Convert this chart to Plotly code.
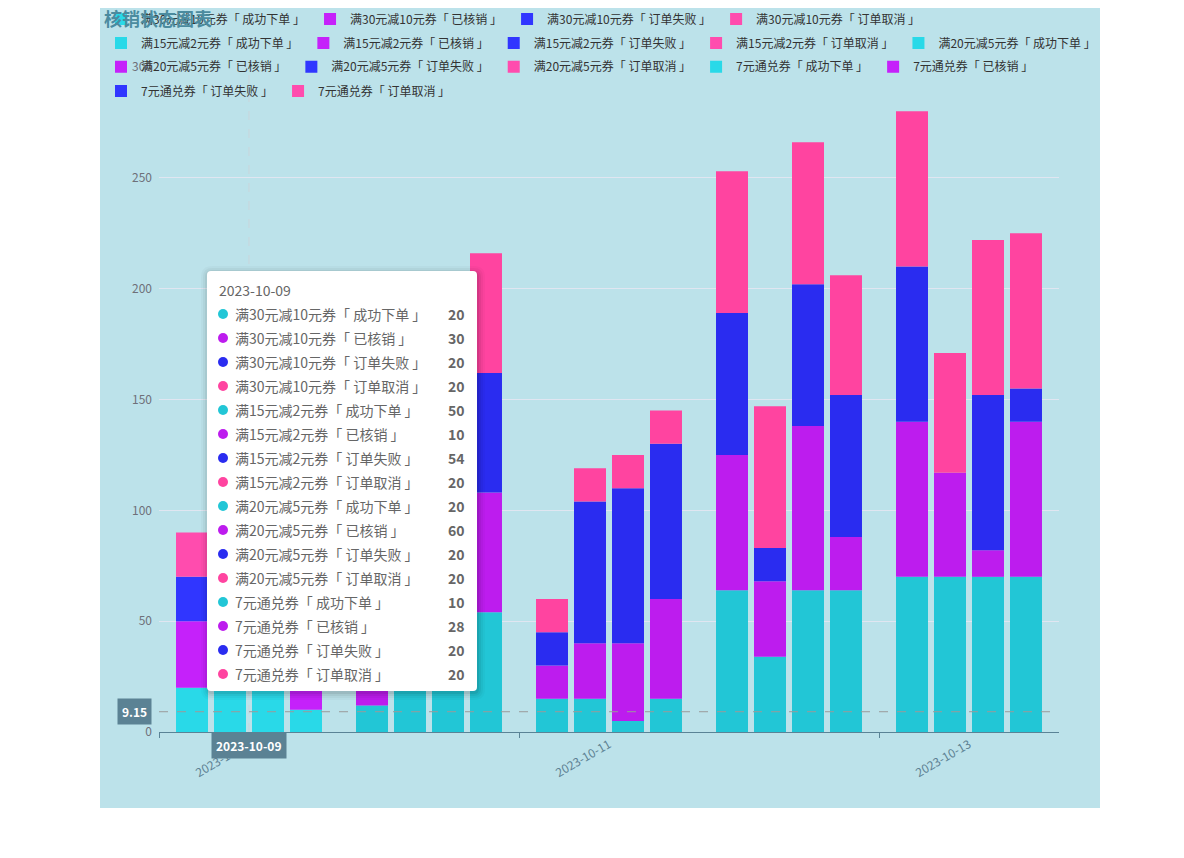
import plotly.graph_objects as go

# ---------------- data ----------------
dates = ['2023-10-09', '2023-10-10', '2023-10-11', '2023-10-12', '2023-10-13']
coupons = ['满30元减10元券', '满15元减2元券', '满20元减5元券', '7元通兑券']
statuses = ['成功下单', '已核销', '订单失败', '订单取消']

c30_success = [20, 12, 15, 64, 70]
c30_used = [30, 25, 15, 61, 70]
c30_failed = [20, 30, 15, 64, 70]
c30_cancel = [20, 15, 15, 64, 70]

c15_success = [50, 40, 15, 34, 70]
c15_used = [10, 30, 25, 34, 47]
c15_failed = [54, 20, 64, 15, 0]
c15_cancel = [20, 20, 15, 64, 54]

c20_success = [20, 54, 5, 64, 70]
c20_used = [60, 30, 35, 74, 12]
c20_failed = [20, 40, 70, 64, 70]
c20_cancel = [20, 20, 15, 64, 70]

c7_success = [10, 54, 15, 64, 70]
c7_used = [28, 54, 45, 24, 70]
c7_failed = [20, 54, 70, 64, 15]
c7_cancel = [20, 54, 15, 54, 70]

values = {
    '满30元减10元券': [c30_success, c30_used, c30_failed, c30_cancel],
    '满15元减2元券': [c15_success, c15_used, c15_failed, c15_cancel],
    '满20元减5元券': [c20_success, c20_used, c20_failed, c20_cancel],
    '7元通兑券': [c7_success, c7_used, c7_failed, c7_cancel],
}

y_ticks = [0, 50, 100, 150, 200, 250, 300]
hover_index = 0          # category under the pointer
pointer_y = 9.15         # value shown by the y axis pointer
title_text = '核销状态图表'

# ---------------- styles ----------------
FONT = 'Noto Sans CJK SC'
status_colors = ['#22c6d6', '#bd1cee', '#2a2cf0', '#ff44a0']
status_colors_hi = ['#29d9e8', '#c521fa', '#3036ff', '#ff4cae']
AXIS_COLOR = '#5a8396'
BG = '#bce2ea'

W, H = 1160, 840
L, R, T, B = 151, 109, 59, 116
PW, PH = W - L - R, H - T - B


def px(fx):
    return (fx - L) / PW


def py(fy):
    return (H - B - fy) / PH


def label(coupon, status):
    return f'{coupon}「 {status} 」'


legend_rows = [4, 5, 5, 2]
legend_ids = ['legend', 'legend2', 'legend3', 'legend4']
legend_fy = [11, 35, 59, 83]

fig = go.Figure()

k = 0
row_of_item = []
for r, n in enumerate(legend_rows):
    row_of_item += [legend_ids[r]] * n

for coupon in coupons:
    base = [0] * len(dates)
    for si, status in enumerate(statuses):
        vals = values[coupon][si]
        colors = [status_colors_hi[si] if i == hover_index else status_colors[si]
                  for i in range(len(dates))]
        fig.add_trace(go.Bar(
            x=dates, y=vals, base=base,
            name=label(coupon, status),
            offsetgroup=coupon,
            marker=dict(color=colors, line=dict(width=0)),
            legend=row_of_item[k],
        ))
        base = [b + v for b, v in zip(base, vals)]
        k += 1

shapes = []
# light blue chart background
shapes.append(dict(type='rect', xref='paper', yref='paper',
                   x0=px(92), x1=px(1092), y0=py(800), y1=py(0),
                   fillcolor=BG, line=dict(width=0), layer='below'))
# axis pointers
shapes.append(dict(type='line', xref='x', yref='paper',
                   x0=dates[hover_index], x1=dates[hover_index], y0=0, y1=1,
                   line=dict(color='#c9d5db', width=1, dash='dash'), layer='above'))
shapes.append(dict(type='line', xref='paper', yref='y',
                   x0=0, x1=1, y0=pointer_y, y1=pointer_y,
                   line=dict(color='#9a9a9a', width=1, dash='dash'), layer='above'))


def rrect(fx0, fy0, fx1, fy1, r):
    return (f"M{px(fx0 + r)},{py(fy0)} L{px(fx1 - r)},{py(fy0)} "
            f"Q{px(fx1)},{py(fy0)} {px(fx1)},{py(fy0 + r)} "
            f"L{px(fx1)},{py(fy1 - r)} Q{px(fx1)},{py(fy1)} {px(fx1 - r)},{py(fy1)} "
            f"L{px(fx0 + r)},{py(fy1)} Q{px(fx0)},{py(fy1)} {px(fx0)},{py(fy1 - r)} "
            f"L{px(fx0)},{py(fy0 + r)} Q{px(fx0)},{py(fy0)} {px(fx0 + r)},{py(fy0)} Z")


# tooltip box with soft shadow
tx0, ty0, tx1, ty1 = 199, 263, 469, 683
for e, a in [(7, 0.025), (5, 0.035), (3, 0.05), (1, 0.07)]:
    shapes.append(dict(type='path', xref='paper', yref='paper',
                       path=rrect(tx0 - e + 1, ty0 - e + 2, tx1 + e + 1, ty1 + e + 2, 4 + e),
                       fillcolor=f'rgba(0,0,0,{a})', line=dict(width=0), layer='above'))
shapes.append(dict(type='path', xref='paper', yref='paper',
                   path=rrect(tx0, ty0, tx1, ty1, 4),
                   fillcolor='#ffffff', line=dict(width=0), layer='above'))

annotations = []
annotations.append(dict(xref='paper', yref='paper', x=px(209), y=py(282),
                        xanchor='left', yanchor='middle', showarrow=False,
                        text=dates[hover_index],
                        font=dict(family=FONT, size=14, color='#666666')))
row = 0
for coupon in coupons:
    for si, status in enumerate(statuses):
        cy = 306 + 24 * row
        shapes.append(dict(type='circle', xref='paper', yref='paper',
                           x0=px(210), x1=px(220), y0=py(cy + 5), y1=py(cy - 5),
                           fillcolor=status_colors[si], line=dict(width=0), layer='above'))
        annotations.append(dict(xref='paper', yref='paper', x=px(225), y=py(cy),
                                xanchor='left', yanchor='middle', showarrow=False,
                                text=label(coupon, status),
                                font=dict(family=FONT, size=14, color='#666666')))
        annotations.append(dict(xref='paper', yref='paper', x=px(459), y=py(cy),
                                xanchor='right', yanchor='middle', showarrow=False,
                                text=f'<b>{values[coupon][si][hover_index]}</b>',
                                font=dict(family=FONT, size=14, color='#666666')))
        row += 1

# axis pointer labels
annotations.append(dict(xref='paper', yref='y', x=px(144), y=pointer_y,
                        xanchor='right', yanchor='middle', showarrow=False,
                        text=f'<b>{pointer_y}</b>', bgcolor='#5b8294', borderpad=4,
                        font=dict(family=FONT, size=12, color='#ffffff')))
annotations.append(dict(xref='x', yref='paper', x=dates[hover_index], y=py(737),
                        xanchor='center', yanchor='middle', showarrow=False,
                        text=f'<b>{dates[hover_index]}</b>', bgcolor='#5b8294', borderpad=4,
                        font=dict(family=FONT, size=12, color='#ffffff')))

legend_common = dict(orientation='h', x=px(93), xanchor='left', yanchor='middle',
                     bgcolor='rgba(0,0,0,0)', borderwidth=0,
                     font=dict(family=FONT, size=12, color='#333333'))
legends = {}
for lid, fy in zip(legend_ids, legend_fy):
    yy = py(fy)
    if abs(yy - 1.0) < 1e-6:
        yy = 1.0005
    legends[lid] = dict(legend_common, y=yy)

fig.update_layout(
    width=W, height=H,
    margin=dict(l=L, r=R, t=T, b=B, autoexpand=False),
    paper_bgcolor='#ffffff',
    plot_bgcolor='rgba(0,0,0,0)',
    barmode='group',
    bargap=0.1556,
    bargroupgap=0.158,
    font=dict(family=FONT, size=12, color='#333333'),
    title=dict(text=title_text, x=96 / W, xanchor='left', xref='container',
               y=1 - 12 / H, yanchor='middle', yref='container',
               font=dict(family=FONT, size=18, color='#4b8b9f', weight='bold')),
    xaxis=dict(type='category', showgrid=False, showline=True, linecolor=AXIS_COLOR,
               linewidth=1, ticks='outside', ticklen=5, tickcolor=AXIS_COLOR,
               tickson='boundaries', dtick=2, tickangle=-30,
               tickfont=dict(family=FONT, size=12, color='#5d8193'),
               zeroline=False),
    yaxis=dict(range=[0, 300], tickvals=y_ticks, showgrid=True, gridcolor='#e0e6f1',
               gridwidth=1, showline=False, ticks='', zeroline=False,
               ticklabelstandoff=6,
               tickfont=dict(family=FONT, size=12, color='#6e7079')),
    shapes=shapes,
    annotations=annotations,
    showlegend=True,
    **legends,
)

fig.write_html('out.html')
